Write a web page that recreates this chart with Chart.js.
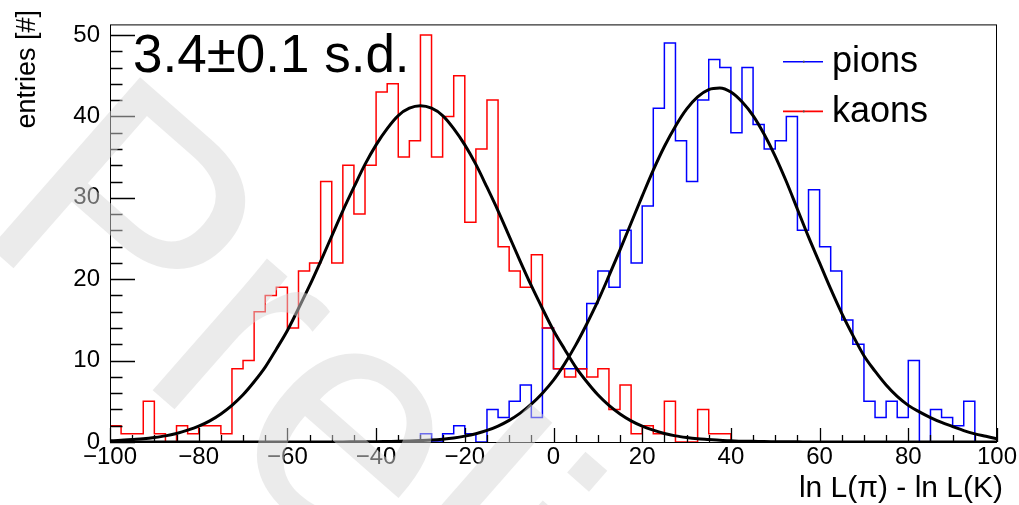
<!DOCTYPE html>
<html>
<head>
<meta charset="utf-8">
<script src="https://cdn.jsdelivr.net/npm/chart.js@4"></script>
<style>
  html, body { margin: 0; padding: 0; background: #fff; }
  #wrap { width: 1019px; height: 505px; position: relative; }
</style>
</head>
<body>
<div id="wrap"><canvas id="pid"></canvas></div>
<script>
// 80 bins of 2.5 between -100 and 100
const xMin = -100;
const xMax = 100;
const binWidth = 2.5;

const kaonCounts = [
  2, 1, 1, 5, 1, 0, 2, 1, 2, 2,
  1, 9, 10, 16, 18, 19, 14, 21, 22, 32,
  22, 34, 28, 34, 43, 44, 35, 37, 50, 35,
  40, 45, 27, 36, 42, 24, 21, 19, 23, 14,
  9, 8, 9, 8, 9, 4, 7, 1, 2, 1,
  5, 0, 0, 4, 1, 1, 0, 0, 0, 0,
  0, 0, 0, 0, 0, 0, 0, 0, 0, 0,
  0, 0, 0, 0, 0, 0, 0, 0, 0, 0,
];

const pionCounts = [
  0, 0, 0, 0, 0, 0, 0, 0, 0, 0,
  0, 0, 0, 0, 0, 0, 0, 0, 0, 0,
  0, 0, 0, 0, 0, 0, 0, 0, 1, 0,
  1, 2, 1, 0, 4, 3, 5, 7, 3, 14,
  9, 9, 9, 17, 21, 19, 26, 22, 29, 41,
  49, 37, 32, 42, 47, 46, 38, 46, 39, 36,
  37, 40, 26, 31, 24, 21, 15, 12, 5, 3,
  5, 3, 10, 0, 4, 3, 2, 5, 0, 0,
];

// gaussian fit curves, read every 2.5 units from -100 to 100
const fitStep = 2.5;
const kaonFit = [
  0.15, 0.2, 0.3, 0.4, 0.55, 0.75, 1.05, 1.45, 1.95, 2.6,
  3.45, 4.5, 5.8, 7.4, 9.2, 11.4, 13.7, 16.4, 19.2, 22.2,
  25.3, 28.4, 31.3, 34.1, 36.5, 38.5, 40.1, 41.0, 41.3, 41.0,
  40.1, 38.5, 36.5, 34.1, 31.3, 28.4, 25.3, 22.2, 19.2, 16.4,
  13.7, 11.4, 9.2, 7.4, 5.8, 4.5, 3.45, 2.6, 1.95, 1.45,
  1.05, 0.75, 0.55, 0.4, 0.3, 0.2, 0.15, 0.1, 0.08, 0.05,
  0.04, 0.03, 0.02, 0.01, 0, 0, 0, 0, 0, 0,
  0, 0, 0, 0, 0, 0, 0, 0, 0, 0,
  0,
];
const pionFit = [
  0, 0, 0, 0, 0, 0, 0, 0, 0, 0,
  0, 0, 0, 0, 0, 0, 0, 0, 0, 0,
  0.01, 0.01, 0.02, 0.03, 0.04, 0.06, 0.08, 0.12, 0.17, 0.24,
  0.35, 0.5, 0.72, 1.02, 1.42, 1.96, 2.66, 3.55, 4.66, 6.0,
  7.6, 9.6, 11.9, 14.5, 17.3, 20.4, 23.6, 26.9, 30.2, 33.4,
  36.3, 38.8, 40.9, 42.4, 43.3, 43.5, 43.0, 41.8, 40.1, 37.8,
  35.1, 32.0, 28.6, 25.2, 22.0, 18.8, 15.8, 13.1, 10.6, 8.7,
  7.0, 5.6, 4.5, 3.7, 3.0, 2.4, 1.9, 1.4, 1.0, 0.7,
  0.4,
];

const yTicks = [0, 10, 20, 30, 40, 50];
const xTicks = [-100, -80, -60, -40, -20, 0, 20, 40, 60, 80, 100];

const seriesNames = ['pions', 'kaons'];
const sigLabel = '3.4\u00b10.1 s.d.';
const xTitle = 'ln L(\u03c0) - ln L(K)';
const yTitle = 'entries [#]';

// outline of a histogram: each count holds from its low edge to the next edge
const histPoints = (counts) => {
  const pts = [{ x: xMin, y: 0 }];
  counts.forEach((c, i) => pts.push({ x: xMin + i * binWidth, y: c }));
  pts.push({ x: xMax, y: counts[counts.length - 1] });
  pts.push({ x: xMax, y: 0 });
  return pts;
};

const curvePoints = (ys) => ys.map((v, i) => ({ x: xMin + i * fitStep, y: v }));

const FONT = "'Liberation Sans', Arial, Helvetica, sans-serif";
Chart.defaults.font.family = FONT;
Chart.defaults.color = '#000';

// frame with inward ticks
const frame = {
  id: 'frame',
  afterDatasetsDraw(chart) {
    const { ctx, chartArea: a, scales: { x, y } } = chart;
    ctx.save();
    ctx.strokeStyle = '#000';
    ctx.lineWidth = 1;
    ctx.strokeRect(a.left + 0.5, a.top + 0.5, a.right - a.left - 1, a.bottom - a.top);
    ctx.lineWidth = 1.3;
    ctx.beginPath();
    for (let v = 0; v <= y.max; v += 2) {
      const py = Math.round(y.getPixelForValue(v)) + 0.5;
      const len = v % 10 === 0 ? 25 : 12.5;
      ctx.moveTo(a.left, py);
      ctx.lineTo(a.left + len, py);
    }
    for (let v = xMin; v <= xMax; v += 5) {
      const px = Math.round(x.getPixelForValue(v)) + 0.5;
      const len = v % 20 === 0 ? 14 : 7;
      ctx.moveTo(px, a.bottom);
      ctx.lineTo(px, a.bottom - len);
    }
    ctx.stroke();
    ctx.restore();
  },
};

// legend, significance label, axis titles and the watermark
const overlay = {
  id: 'overlay',
  afterDraw(chart) {
    const { ctx } = chart;
    ctx.save();

    ctx.fillStyle = '#000';
    ctx.font = '53px ' + FONT;
    ctx.textBaseline = 'alphabetic';
    ctx.textAlign = 'left';
    ctx.fillText(sigLabel, 133, 72);

    const colors = ['#0000ff', '#ff0000'];
    const rows = [72, 121.7];
    ctx.font = '36px ' + FONT;
    seriesNames.forEach((name, i) => {
      const ly = rows[i] - 10.3;
      ctx.strokeStyle = colors[i];
      ctx.lineWidth = 1.6;
      ctx.beginPath();
      ctx.moveTo(783, ly);
      ctx.lineTo(823, ly);
      ctx.stroke();
      ctx.fillStyle = '#555';
      ctx.fillRect(803, ly - 1, 1.5, 2);
      ctx.fillStyle = '#000';
      ctx.fillText(name, 832, rows[i]);
    });

    ctx.font = '30px ' + FONT;
    ctx.textAlign = 'right';
    ctx.fillText(xTitle, 1003, 497);

    ctx.save();
    ctx.translate(35, 10);
    ctx.rotate(-Math.PI / 2);
    ctx.font = '27px ' + FONT;
    ctx.textAlign = 'right';
    ctx.fillText(yTitle, 0, 0);
    ctx.restore();

    ctx.save();
    ctx.translate(-30, 230);
    ctx.rotate(0.72);
    ctx.font = '330px ' + FONT;
    ctx.textAlign = 'left';
    ctx.fillStyle = 'rgba(215, 215, 215, 0.5)';
    ctx.fillText('Preliminary', 0, 0);
    ctx.restore();

    ctx.restore();
  },
};

new Chart(document.getElementById('pid'), {
  type: 'line',
  data: {
    datasets: [
      {
        label: seriesNames[0],
        data: histPoints(pionCounts),
        borderColor: '#0000ff',
        borderWidth: 1.5,
        stepped: 'before',
        pointRadius: 0,
        fill: false,
        order: 3,
      },
      {
        label: seriesNames[1],
        data: histPoints(kaonCounts),
        borderColor: '#ff0000',
        borderWidth: 1.5,
        stepped: 'before',
        pointRadius: 0,
        fill: false,
        order: 2,
      },
      {
        label: 'kaon fit',
        data: curvePoints(kaonFit),
        borderColor: '#000',
        borderWidth: 3,
        cubicInterpolationMode: 'monotone',
        pointRadius: 0,
        fill: false,
        order: 1,
      },
      {
        label: 'pion fit',
        data: curvePoints(pionFit),
        borderColor: '#000',
        borderWidth: 3,
        cubicInterpolationMode: 'monotone',
        pointRadius: 0,
        fill: false,
        order: 0,
      },
    ],
  },
  options: {
    responsive: true,
    maintainAspectRatio: false,
    animation: false,
    layout: { padding: { top: 9, right: 22, left: 0, bottom: 0 } },
    plugins: {
      legend: { display: false },
      tooltip: { enabled: false },
    },
    scales: {
      x: {
        type: 'linear',
        min: xMin,
        max: xMax,
        grid: { display: false, drawTicks: false },
        border: { display: false },
        afterBuildTicks: (s) => { s.ticks = xTicks.map((v) => ({ value: v })); },
        afterFit: (s) => { s.height = 63; },
        ticks: {
          padding: 1,
          maxRotation: 0,
          autoSkip: false,
          font: { size: 24 },
          callback: (v) => String(v).replace('-', '\u2212'),
        },
      },
      y: {
        type: 'linear',
        min: 0,
        max: 51.3,
        grid: { display: false, drawTicks: false },
        border: { display: false },
        afterBuildTicks: (s) => { s.ticks = yTicks.map((v) => ({ value: v })); },
        afterFit: (s) => { s.width = 110; },
        ticks: {
          padding: 10,
          font: { size: 24 },
        },
      },
    },
  },
  plugins: [frame, overlay],
});
</script>
</body>
</html>
